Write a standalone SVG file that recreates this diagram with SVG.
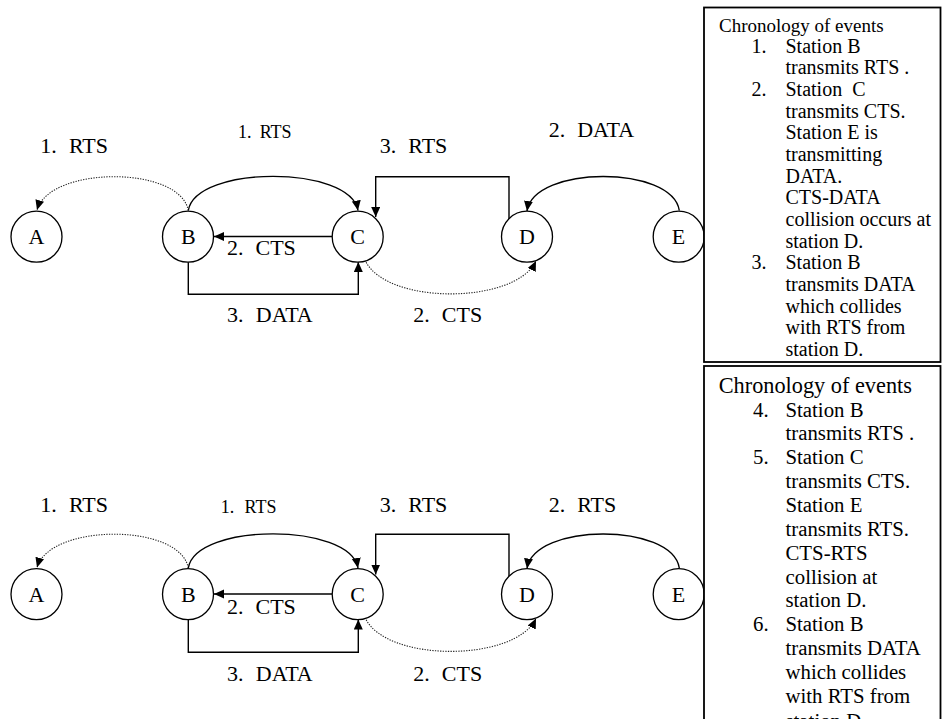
<svg xmlns="http://www.w3.org/2000/svg" width="945" height="719" viewBox="0 0 945 719">
<style>
.node circle{fill:#fff;stroke:#000;stroke-width:1.3}
.node text,.lbl,.box text{font-family:"Liberation Serif","Times New Roman",serif;fill:#000}
.node text{font-size:22px;text-anchor:middle}
.lbl{font-size:22px}
.sm{font-size:18px}
.solid{fill:none;stroke:#000;stroke-width:1.4}
.dot{fill:none;stroke:#222;stroke-width:1.1;stroke-dasharray:1.3 1.3}
.box rect{fill:#fff;stroke:#000;stroke-width:1.8}
.t1{font-size:19px}
.b1{font-size:20px}
.t2{font-size:22.3px}
.b2{font-size:20.8px}
</style>
<defs>
<marker id="ah" markerUnits="userSpaceOnUse" markerWidth="11" markerHeight="10" refX="10" refY="4.5" orient="auto">
<path d="M0,0 L10,4.5 L0,9 z" fill="#000"/>
</marker>
</defs>
<rect width="945" height="719" fill="#fff"/>

<!-- TOP DIAGRAM -->
<g id="top-connectors">
<path class="dot" d="M188.3,210.5 C180,165.5 50,165.5 37,210" marker-end="url(#ah)"/>
<path class="solid" d="M188.3,210.5 C196,165 350,165 358,210.5" marker-end="url(#ah)"/>
<path class="solid" d="M332.4,236.5 L214,236.5" marker-end="url(#ah)"/>
<path class="solid" d="M188.3,262 V294.3 H358.3 V262" marker-end="url(#ah)"/>
<path class="solid" d="M509,219 V176.7 H375.7 V217" marker-end="url(#ah)"/>
<path class="solid" d="M679.3,210.5 C672,165 534,165 527,211" marker-end="url(#ah)"/>
<path class="dot" d="M365,260 C385,305 515,305 536,261" marker-end="url(#ah)"/>
</g>
<g id="top-A" class="node"><circle cx="36.5" cy="236.7" r="25.5"/><text x="36.5" y="244">A</text></g>
<g id="top-B" class="node"><circle cx="188" cy="236.7" r="25.5"/><text x="188.3" y="244">B</text></g>
<g id="top-C" class="node"><circle cx="357.7" cy="236.7" r="25.5"/><text x="357.5" y="244">C</text></g>
<g id="top-D" class="node"><circle cx="527" cy="236.7" r="25.5"/><text x="527" y="244">D</text></g>
<g id="top-E" class="node"><circle cx="678.7" cy="236.7" r="25.5"/><text x="678.5" y="244">E</text></g>
<g id="top-labels">
<text class="lbl" y="153.3"><tspan x="40.3">1.</tspan><tspan x="68.9">RTS</tspan></text>
<text class="lbl sm" y="138.3"><tspan x="238">1.</tspan><tspan x="259.7">RTS</tspan></text>
<text class="lbl" y="255"><tspan x="227">2.</tspan><tspan x="255.5">CTS</tspan></text>
<text class="lbl" y="321.7"><tspan x="227">3.</tspan><tspan x="255.8">DATA</tspan></text>
<text class="lbl" y="153.3"><tspan x="379.8">3.</tspan><tspan x="408.3">RTS</tspan></text>
<text class="lbl" y="136.7"><tspan x="548.7">2.</tspan><tspan x="577.2">DATA</tspan></text>
<text class="lbl" y="321.7"><tspan x="413.3">2.</tspan><tspan x="441.8">CTS</tspan></text>
</g>

<!-- BOTTOM DIAGRAM -->
<g id="bottom-connectors" transform="translate(0,357.5)">
<path class="dot" d="M188.3,210.5 C180,165.5 50,165.5 37,210" marker-end="url(#ah)"/>
<path class="solid" d="M188.3,210.5 C196,165 350,165 358,210.5" marker-end="url(#ah)"/>
<path class="solid" d="M332.4,236.5 L214,236.5" marker-end="url(#ah)"/>
<path class="solid" d="M188.3,262 V294.8 H358.3 V262" marker-end="url(#ah)"/>
<path class="solid" d="M509,219 V176.7 H375.7 V217" marker-end="url(#ah)"/>
<path class="solid" d="M679.3,210.5 C672,165 534,165 527,211" marker-end="url(#ah)"/>
<path class="dot" d="M365,260 C385,305 515,305 536,261" marker-end="url(#ah)"/>
</g>
<g id="bot-A" class="node"><circle cx="36.5" cy="594.2" r="25.5"/><text x="36.5" y="601.5">A</text></g>
<g id="bot-B" class="node"><circle cx="188" cy="594.2" r="25.5"/><text x="188.3" y="601.5">B</text></g>
<g id="bot-C" class="node"><circle cx="357.7" cy="594.2" r="25.5"/><text x="357.5" y="601.5">C</text></g>
<g id="bot-D" class="node"><circle cx="527" cy="594.2" r="25.5"/><text x="527" y="601.5">D</text></g>
<g id="bot-E" class="node"><circle cx="678.7" cy="594.2" r="25.5"/><text x="678.5" y="601.5">E</text></g>
<g id="bottom-labels">
<text class="lbl" y="511.7"><tspan x="40.3">1.</tspan><tspan x="68.9">RTS</tspan></text>
<text class="lbl sm" y="513.3"><tspan x="220.7">1.</tspan><tspan x="244.6">RTS</tspan></text>
<text class="lbl" y="614"><tspan x="227">2.</tspan><tspan x="255.5">CTS</tspan></text>
<text class="lbl" y="680.7"><tspan x="227">3.</tspan><tspan x="255.8">DATA</tspan></text>
<text class="lbl" y="511.7"><tspan x="379.8">3.</tspan><tspan x="408.3">RTS</tspan></text>
<text class="lbl" y="511.7"><tspan x="548.7">2.</tspan><tspan x="577.2">RTS</tspan></text>
<text class="lbl" y="680.7"><tspan x="413.3">2.</tspan><tspan x="441.8">CTS</tspan></text>
</g>

<!-- TEXT BOXES -->
<g id="box-top" class="box">
<rect x="704" y="7.5" width="236.5" height="354.5"/>
<text class="t1" x="719" y="31.7">Chronology of events</text>
<text class="b1" x="751.5" y="52.7">1.</text>
<text class="b1" x="785.5" y="52.7">Station B</text>
<text class="b1" x="785.5" y="74.4">transmits RTS .</text>
<text class="b1" x="751.5" y="96">2.</text>
<text class="b1" x="785.5" y="96" xml:space="preserve">Station  C</text>
<text class="b1" x="785.5" y="117.7">transmits CTS.</text>
<text class="b1" x="785.5" y="139.3">Station E is</text>
<text class="b1" x="785.5" y="161">transmitting</text>
<text class="b1" x="785.5" y="182.7">DATA.</text>
<text class="b1" x="785.5" y="204.3">CTS-DATA</text>
<text class="b1" x="785.5" y="226">collision occurs at</text>
<text class="b1" x="785.5" y="247.6">station D.</text>
<text class="b1" x="751.5" y="269.3">3.</text>
<text class="b1" x="785.5" y="269.3">Station B</text>
<text class="b1" x="785.5" y="291">transmits DATA</text>
<text class="b1" x="785.5" y="312.6">which collides</text>
<text class="b1" x="785.5" y="334.3">with RTS from</text>
<text class="b1" x="785.5" y="356">station D.</text>
</g>
<g id="box-bottom" class="box">
<rect x="704" y="366" width="236.5" height="380"/>
<text class="t2" x="718.7" y="393">Chronology of events</text>
<text class="b2" x="753" y="416.5">4.</text>
<text class="b2" x="785.5" y="416.5">Station B</text>
<text class="b2" x="785.5" y="440.4">transmits RTS .</text>
<text class="b2" x="753" y="464.2">5.</text>
<text class="b2" x="785.5" y="464.2">Station C</text>
<text class="b2" x="785.5" y="488">transmits CTS.</text>
<text class="b2" x="785.5" y="511.9">Station E</text>
<text class="b2" x="785.5" y="535.8">transmits RTS.</text>
<text class="b2" x="785.5" y="559.6">CTS-RTS</text>
<text class="b2" x="785.5" y="583.5">collision at</text>
<text class="b2" x="785.5" y="607.3">station D.</text>
<text class="b2" x="753" y="631.2">6.</text>
<text class="b2" x="785.5" y="631.2">Station B</text>
<text class="b2" x="785.5" y="655">transmits DATA</text>
<text class="b2" x="785.5" y="678.9">which collides</text>
<text class="b2" x="785.5" y="702.7">with RTS from</text>
<text class="b2" x="785.5" y="728">station D.</text>
</g>
</svg>
